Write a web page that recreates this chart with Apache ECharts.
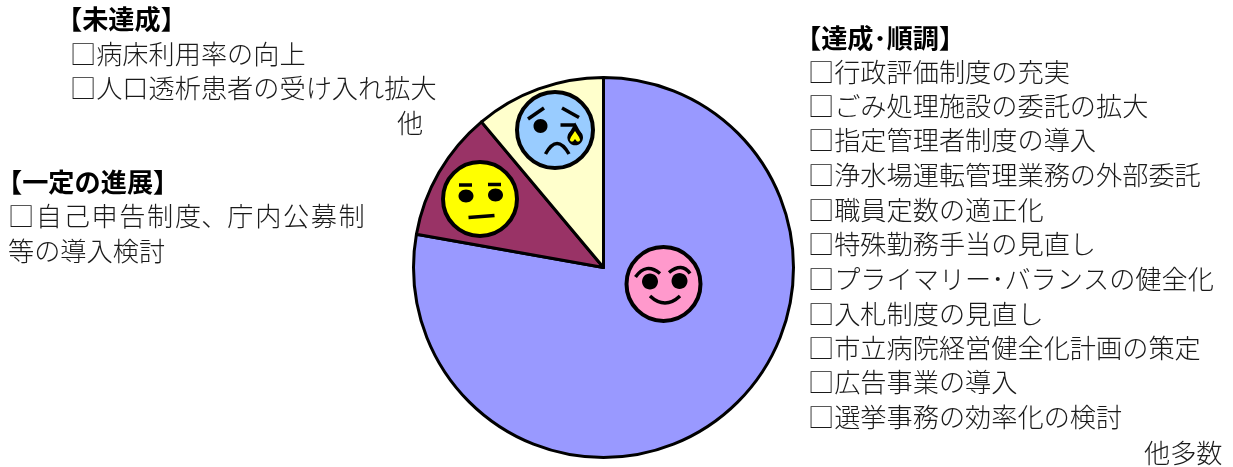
<!DOCTYPE html>
<html><head><meta charset="utf-8">
<style>html,body{margin:0;padding:0;background:#fff}#c{width:1233px;height:467px}</style>
<script src="https://cdn.jsdelivr.net/npm/echarts@6/dist/echarts.min.js"></script>
</head><body><div id="c"></div>
<script>
const categories = ['達成・順調', '一定の進展', '未達成'];
const values = [77.8, 11.1, 11.1];
const colors = ['#9999FF', '#993366', '#FFFFCC'];

const achievedTitle = '【達成･順調】';
const achievedItems = ['□行政評価制度の充実','□ごみ処理施設の委託の拡大','□指定管理者制度の導入','□浄水場運転管理業務の外部委託','□職員定数の適正化','□特殊勤務手当の見直し','□プライマリー･バランスの健全化','□入札制度の見直し','□市立病院経営健全化計画の策定','□広告事業の導入','□選挙事務の効率化の検討'];
const achievedTail = '他多数';
const unmetTitle = '【未達成】';
const unmetItems = ['□病床利用率の向上','□人口透析患者の受け入れ拡大'];
const unmetTail = '他';
const progressTitle = '【一定の進展】';
const progressItems = ['□\u200a自\u200a己\u200a申\u200a告\u200a制\u200a度、庁\u200a内\u200a公\u200a募\u200a制','等の導入検討'];

const FONT = '"Noto Sans CJK JP"';
const g = [];
function txt(s, x, y, bold, align) {
  g.push({type:'text', z:5, style:{text:s, x, y, align:align||'left', verticalAlign:'middle',
    font:(bold?'bold ':'300 ')+'26.2px '+FONT, fill:bold?'#000':'#1a1a1a'}});
}
txt(achievedTitle, 795, 38, true);
achievedItems.forEach((s,i)=>txt(s, 808, [72,106,140,175,210,244,279,314,348,382,417][i]));
txt(achievedTail, 1144, 453);
txt(unmetTitle, 56, 19, true);
unmetItems.forEach((s,i)=>txt(s, 70, 54+i*34));
txt(unmetTail, 397, 123);
txt(progressTitle, -4, 182, true);
progressItems.forEach((s,i)=>txt(s, 8, 216+i*35));

// face helpers: coordinates in absolute page pixels
const K = '#000';
function circle(cx,cy,r,fill,lw){g.push({type:'circle',z:10,shape:{cx,cy,r},style:{fill,stroke:K,lineWidth:lw||4}});}
function dot(cx,cy,rx,ry){g.push({type:'ellipse',z:11,shape:{cx,cy,rx,ry:ry||rx},style:{fill:K}});}
function line(x1,y1,x2,y2,lw){g.push({type:'line',z:11,shape:{x1,y1,x2,y2},style:{stroke:K,lineWidth:lw||3.5}});}
function curve(x1,y1,cpx,cpy,x2,y2,lw){g.push({type:'bezierCurve',z:11,shape:{x1,y1,cpx1:cpx,cpy1:cpy,x2,y2},style:{stroke:K,lineWidth:lw||3.5,fill:'none'}});}
function poly(points,fill,z){g.push({type:'polygon',z,shape:{points},style:{fill}});}

// happy
circle(663.5,284,37,'#FF99CC');
dot(650,281.5,8); dot(679.5,281,8);
curve(635.5,277,646,262,660,273.5); curve(669,272.5,682,262,690,273.5);
curve(650,296,665,310,680,296);
// neutral
circle(480,199,37,'#FFFF00');
dot(466,196,7.5,6.5); dot(495.5,195,7.5,6.5);
line(459,185,472,185); line(488,184.5,501,184.5);
line(468.5,217.5,494.5,215.5);
// sad
circle(555,130,38,'#99CCFF');
dot(540.5,126,7);
line(528,119,544,108); line(562,108,579,117.5);
line(560.5,125,575,125);
curve(545.5,154,557,133,569,154);
dot(575.2,137.5,7.8);
poly([[575.2,122.5],[568.2,135],[582.2,135]],K,12);
poly([[575,131],[571,137],[569.8,140],[571,141.5],[573,141.5],[575,139],[577,141.5],[579,141.5],[580.2,140],[579,137]],'#FFFF00',13);

const chart = echarts.init(document.getElementById('c'), null, {renderer:'canvas'});
chart.setOption({
  animation:false,
  backgroundColor:'#fff',
  series:[{
    type:'pie', center:[603.5,267.5], radius:[0,190], startAngle:90, clockwise:true,
    silent:true, label:{show:false}, labelLine:{show:false},
    itemStyle:{borderColor:'#000', borderWidth:3},
    data:categories.map((name,i)=>({name, value:values[i], itemStyle:{color:colors[i]}}))
  }],
  graphic:{elements:g}
});
</script></body></html>
